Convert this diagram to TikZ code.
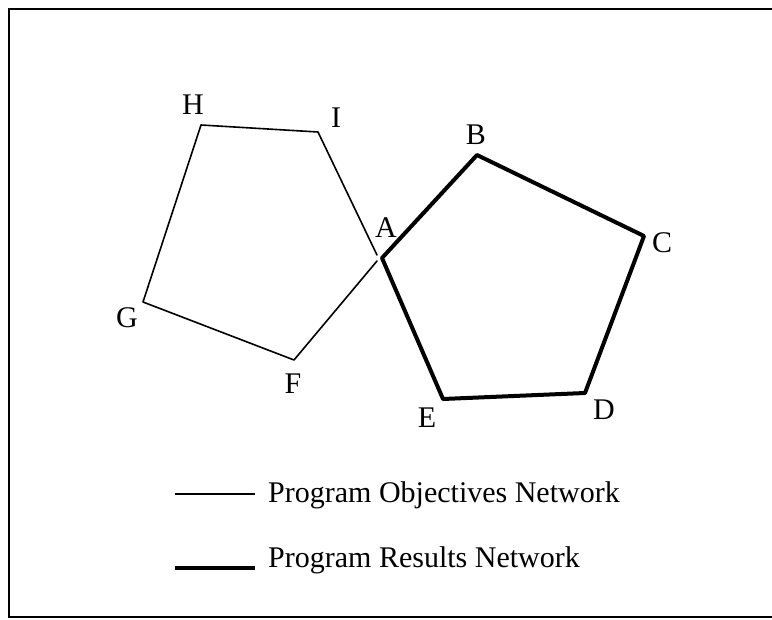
\documentclass[tikz,border=0pt]{standalone}
\usepackage{fontspec}
\setmainfont{Liberation Serif}
\begin{document}
\begin{tikzpicture}[x=1pt,y=-1pt,
  thinnet/.style={line width=1.6pt,line cap=round,line join=round},
  thicknet/.style={line width=4pt,line cap=round,line join=round},
  lbl/.style={font=\fontsize{30}{34}\selectfont,inner sep=0pt},
  legendtext/.style={font=\fontsize{30}{34}\selectfont,inner sep=0pt,anchor=base west}]
\useasboundingbox (0,0) rectangle (772,620);
% frame
\draw[line width=2pt] (780,9) -- (9,9) -- (9,617) -- (780,617);
% vertices of the objectives network
\coordinate (H) at (201,125);
\coordinate (I) at (318,132);
\coordinate (Ai) at (377,255);
\coordinate (Ao) at (377,261);
\coordinate (F) at (294,360);
\coordinate (G) at (143,302);
% vertices of the results network
\coordinate (A) at (382,258);
\coordinate (B) at (477,155);
\coordinate (C) at (644,236);
\coordinate (D) at (585,393);
\coordinate (E) at (443,399);
% objectives network
\draw[thinnet] (Ai) -- (I) -- (H) -- (G) -- (F) -- (Ao);
% results network
\draw[thicknet] (A) -- (B) -- (C) -- (D) -- (E) -- cycle;
% vertex labels
\node[lbl] (lH) at (193,105) {H};
\node[lbl] (lI) at (336,118) {I};
\node[lbl] (lA) at (386,228) {A};
\node[lbl] (lB) at (476,135) {B};
\node[lbl] (lC) at (662,243) {C};
\node[lbl] (lD) at (604,410) {D};
\node[lbl] (lE) at (427,418) {E};
\node[lbl] (lF) at (293,384) {F};
\node[lbl] (lG) at (127,318) {G};
% legend
\coordinate (k1a) at (175,494);
\coordinate (k1b) at (255,494);
\coordinate (k2a) at (175,568);
\coordinate (k2b) at (255,568);
\draw[line width=1.6pt] (k1a) -- (k1b);
\draw[line width=4.5pt] (k2a) -- (k2b);
\node[legendtext] (t1) at (268,503) {Program Objectives Network};
\node[legendtext] (t2) at (268,568) {Program Results Network};
\end{tikzpicture}
\end{document}
